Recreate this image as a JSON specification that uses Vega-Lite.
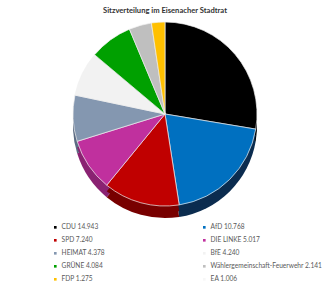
{
  "$schema": "https://vega.github.io/schema/vega-lite/v6.json",
  "width": 330,
  "height": 184,
  "padding": {"left": 0, "right": 0, "top": 6, "bottom": 0},
  "background": "white",
  "title": {"text": "Sitzverteilung im Eisenacher Stadtrat", "font": "Lato", "fontSize": 7.6, "fontWeight": "bold", "color": "#333333", "anchor": "middle", "offset": 6},
  "config": {"view": {"stroke": null}},
  "data": {"values": [
    {"rank": 1, "party": "CDU", "value": 14.943, "label": "CDU 14.943"},
    {"rank": 2, "party": "AfD", "value": 10.768, "label": "AfD 10.768"},
    {"rank": 3, "party": "SPD", "value": 7.240, "label": "SPD 7.240"},
    {"rank": 4, "party": "DIE LINKE", "value": 5.017, "label": "DIE LINKE 5.017"},
    {"rank": 5, "party": "HEIMAT", "value": 4.378, "label": "HEIMAT 4.378"},
    {"rank": 6, "party": "BfE", "value": 4.240, "label": "BfE 4.240"},
    {"rank": 7, "party": "GRÜNE", "value": 4.084, "label": "GRÜNE 4.084"},
    {"rank": 8, "party": "Wählergemeinschaft-Feuerwehr", "value": 2.141, "label": "Wählergemeinschaft-Feuerwehr 2.141"},
    {"rank": 9, "party": "FDP", "value": 1.275, "label": "FDP 1.275"},
    {"rank": 10, "party": "EA", "value": 1.006, "label": "EA 1.006"}
  ]},
  "layer": [
    {
      "transform": [{"filter": "datum.party != 'EA'"}],
      "mark": {"type": "arc", "outerRadius": 92, "yOffset": 12},
      "encoding": {
        "theta": {"field": "value", "type": "quantitative", "stack": true},
        "order": {"field": "rank", "type": "quantitative"},
        "fill": {"field": "party", "type": "nominal", "legend": null,
          "scale": {"domain": ["CDU", "AfD", "SPD", "DIE LINKE", "HEIMAT", "BfE", "GRÜNE", "Wählergemeinschaft-Feuerwehr", "FDP"],
                    "range": ["#000000", "#0B2C4F", "#780000", "#8A2272", "#5B6B82", "#B5B5B5", "#006400", "#8C8C8C", "#B38600"]}}
      }
    },
    {
      "transform": [{"filter": "datum.party != 'EA'"}],
      "mark": {"type": "arc", "outerRadius": 92, "yOffset": 6},
      "encoding": {
        "theta": {"field": "value", "type": "quantitative", "stack": true},
        "order": {"field": "rank", "type": "quantitative"},
        "fill": {"field": "party", "type": "nominal", "legend": null,
          "scale": {"domain": ["CDU", "AfD", "SPD", "DIE LINKE", "HEIMAT", "BfE", "GRÜNE", "Wählergemeinschaft-Feuerwehr", "FDP"],
                    "range": ["#000000", "#0B2C4F", "#780000", "#8A2272", "#5B6B82", "#B5B5B5", "#006400", "#8C8C8C", "#B38600"]}}
      }
    },
    {
      "transform": [{"filter": "datum.party != 'EA'"}],
      "mark": {"type": "arc", "outerRadius": 92, "stroke": "#f0f0f0", "strokeWidth": 0.7},
      "encoding": {
        "theta": {"field": "value", "type": "quantitative", "stack": true},
        "order": {"field": "rank", "type": "quantitative"},
        "color": {"field": "label", "type": "nominal",
          "scale": {"domain": ["CDU 14.943", "AfD 10.768", "SPD 7.240", "DIE LINKE 5.017", "HEIMAT 4.378", "BfE 4.240", "GRÜNE 4.084", "Wählergemeinschaft-Feuerwehr 2.141", "FDP 1.275", "EA 1.006"],
                    "range": ["#000000", "#0070C0", "#C00000", "#C0309E", "#8497B0", "#F2F2F2", "#00A000", "#BFBFBF", "#FFC000", "#F7F7F7"]},
          "legend": {"title": null, "orient": "none", "direction": "horizontal", "legendX": 52, "legendY": 202, "columns": 2, "gridAlign": "all", "columnPadding": 28, "rowPadding": 6, "symbolType": "square", "symbolSize": 7, "symbolStrokeWidth": 0, "labelFont": "Lato", "labelFontSize": 6.6, "labelColor": "#595959", "labelOffset": 3, "labelLimit": 250, "padding": 0}}
      }
    }
  ]
}
